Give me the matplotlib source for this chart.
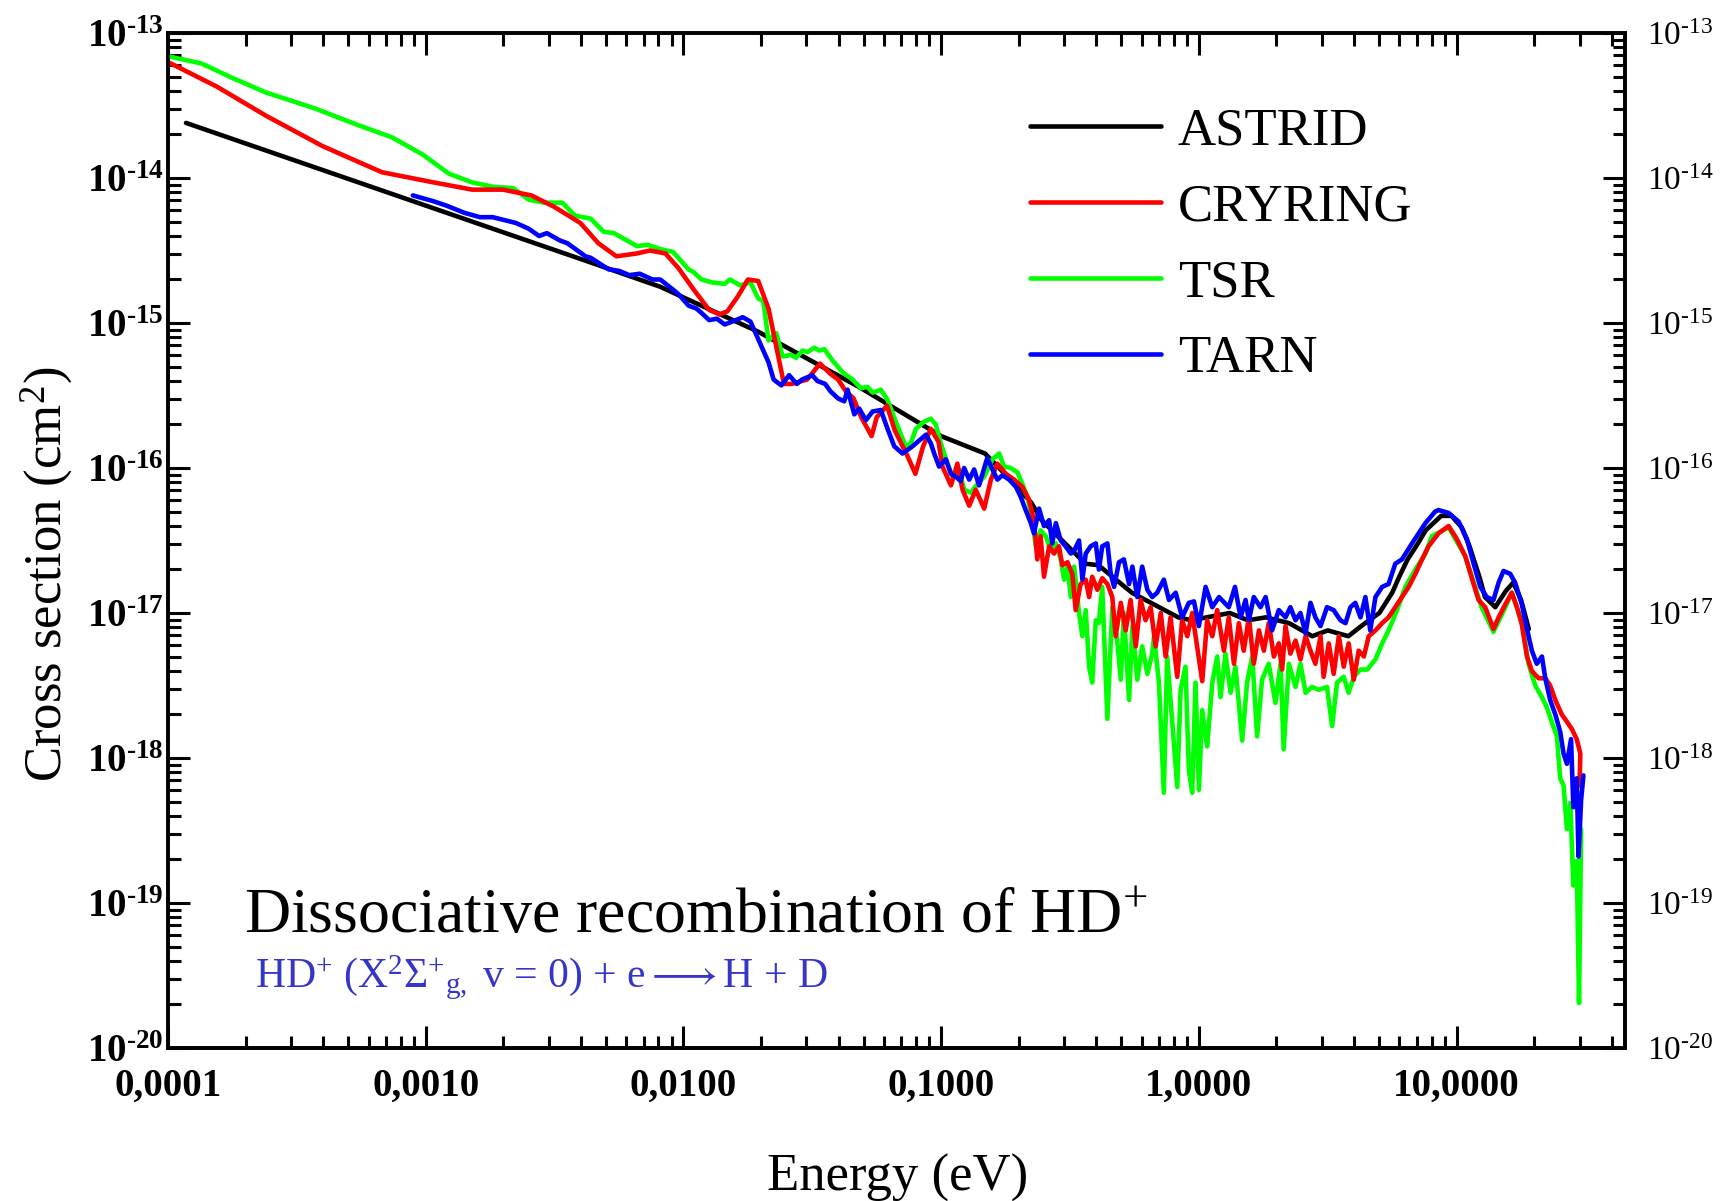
import numpy as np
import matplotlib
matplotlib.use('Agg')
import matplotlib.pyplot as plt
from matplotlib.ticker import LogLocator, NullFormatter

plt.rcParams['font.family'] = ['Liberation Serif', 'DejaVu Sans']
plt.rcParams['mathtext.fontset'] = 'custom'
plt.rcParams['mathtext.rm'] = 'Liberation Serif'
plt.rcParams['mathtext.it'] = 'Liberation Serif:italic'
plt.rcParams['mathtext.bf'] = 'Liberation Serif:bold'
plt.rcParams['mathtext.default'] = 'regular'
plt.rcParams['mathtext.fallback'] = 'stix'

## values, as log10(E / eV) and log10(sigma / cm^2)
astrid_le = [-3.93, -2.38, -2.09, -1.71, -1.32, -1.16, -1.00, -0.83, -0.78, -0.65, -0.61, -0.44, -0.39, -0.26,
             -0.08, -0.03, 0.12, 0.19, 0.26, 0.35, 0.44, 0.50, 0.58, 0.63, 0.70, 0.75, 0.78, 0.81, 0.85, 0.88,
             0.94, 0.98, 1.02, 1.05, 1.09, 1.11, 1.15, 1.19, 1.22, 1.25, 1.28]
astrid_ls = [-13.62, -14.57, -14.75, -15.06, -15.44, -15.61, -15.78, -15.90, -15.99, -16.24, -16.36, -16.66,
             -16.67, -16.86, -17.03, -17.05, -17.00, -17.05, -17.03, -17.07, -17.16, -17.12, -17.16, -17.09,
             -17.00, -16.86, -16.74, -16.63, -16.52, -16.43, -16.33, -16.33, -16.41, -16.54, -16.76, -16.89,
             -16.96, -16.85, -16.79, -16.91, -17.11]

cryring_le = [-4.00, -3.81, -3.62, -3.40, -3.17, -2.97, -2.82, -2.70, -2.59, -2.50, -2.40, -2.33, -2.26, -2.18,
              -2.13, -2.07, -2.02, -1.96, -1.90, -1.86, -1.83, -1.79, -1.75, -1.71, -1.67, -1.64, -1.61, -1.58,
              -1.52, -1.47, -1.43, -1.40, -1.37, -1.34, -1.31, -1.27, -1.25, -1.21, -1.18, -1.13, -1.10, -1.07,
              -1.04, -1.01, -0.995, -0.962, -0.937, -0.917, -0.891, -0.866, -0.833, -0.807, -0.782, -0.749,
              -0.717, -0.685, -0.659, -0.640, -0.627, -0.614, -0.601, -0.581, -0.562, -0.543, -0.530, -0.510,
              -0.491, -0.478, -0.459, -0.439, -0.426, -0.414, -0.394, -0.375, -0.355, -0.336, -0.323, -0.303,
              -0.284, -0.265, -0.245, -0.226, -0.207, -0.187, -0.168, -0.148, -0.129, -0.110, -0.084, -0.065,
              -0.045, -0.026, -0.007, 0.013, 0.032, 0.052, 0.071, 0.097, 0.116, 0.136, 0.155, 0.174, 0.194,
              0.213, 0.233, 0.252, 0.271, 0.291, 0.310, 0.323, 0.336, 0.355, 0.375, 0.394, 0.414, 0.433, 0.452,
              0.472, 0.484, 0.504, 0.523, 0.543, 0.562, 0.581, 0.601, 0.620, 0.640, 0.659, 0.685, 0.711, 0.736,
              0.762, 0.788, 0.814, 0.840, 0.866, 0.891, 0.930, 0.969, 1.001, 1.034, 1.059, 1.085, 1.111, 1.143,
              1.163, 1.189, 1.214, 1.234, 1.253, 1.273, 1.292, 1.318, 1.344, 1.363, 1.383, 1.408, 1.428, 1.447,
              1.466, 1.480, 1.477]
cryring_ls = [-13.20, -13.37, -13.57, -13.78, -13.96, -14.03, -14.08, -14.08, -14.12, -14.20, -14.31, -14.45,
              -14.54, -14.52, -14.50, -14.52, -14.62, -14.77, -14.91, -14.94, -14.92, -14.82, -14.70, -14.71,
              -14.90, -15.16, -15.42, -15.42, -15.39, -15.28, -15.35, -15.39, -15.47, -15.52, -15.65, -15.78,
              -15.65, -15.57, -15.74, -15.92, -16.04, -15.85, -15.73, -15.82, -15.99, -16.12, -15.97, -16.15,
              -16.26, -16.15, -16.28, -16.08, -15.97, -16.04, -16.08, -16.13, -16.22, -16.36, -16.63, -16.47,
              -16.75, -16.54, -16.59, -16.54, -16.67, -16.65, -16.73, -16.98, -16.80, -16.77, -16.89, -16.75,
              -16.84, -16.76, -16.80, -16.89, -17.16, -16.93, -17.12, -16.91, -17.23, -16.91, -17.05, -16.96,
              -17.23, -17.00, -17.30, -17.03, -17.44, -17.05, -17.16, -17.00, -17.23, -17.47, -17.05, -17.16,
              -16.98, -17.26, -17.03, -17.35, -17.07, -17.26, -17.03, -17.35, -17.12, -17.26, -17.07, -17.30,
              -17.21, -17.39, -17.09, -17.28, -17.19, -17.32, -17.16, -17.26, -17.35, -17.16, -17.44, -17.21,
              -17.42, -17.16, -17.37, -17.21, -17.46, -17.26, -17.30, -17.16, -17.12, -17.07, -17.03, -16.96,
              -16.89, -16.82, -16.73, -16.63, -16.54, -16.45, -16.40, -16.49, -16.61, -16.76, -16.91, -16.96,
              -17.11, -17.03, -16.94, -16.86, -16.96, -17.08, -17.30, -17.40, -17.45, -17.45, -17.50, -17.60,
              -17.70, -17.75, -17.80, -17.87, -17.97, -18.19]

tsr_le = [-4.00, -3.87, -3.75, -3.62, -3.43, -3.27, -3.13, -3.01, -2.91, -2.82, -2.74, -2.66, -2.60, -2.54,
          -2.47, -2.42, -2.36, -2.31, -2.27, -2.18, -2.14, -2.09, -2.04, -1.98, -1.96, -1.93, -1.89, -1.84, -1.82,
          -1.78, -1.74, -1.71, -1.69, -1.67, -1.64, -1.615, -1.583, -1.563, -1.538, -1.518, -1.492, -1.473,
          -1.453, -1.421, -1.382, -1.344, -1.311, -1.286, -1.266, -1.234, -1.208, -1.176, -1.156, -1.137, -1.118,
          -1.098, -1.066, -1.040, -1.021, -1.001, -0.975, -0.956, -0.930, -0.911, -0.885, -0.859, -0.833, -0.801,
          -0.775, -0.756, -0.730, -0.704, -0.685, -0.665, -0.646, -0.633, -0.614, -0.594, -0.575, -0.555, -0.536,
          -0.523, -0.510, -0.497, -0.484, -0.465, -0.452, -0.439, -0.426, -0.414, -0.400, -0.388, -0.375, -0.355,
          -0.336, -0.317, -0.303, -0.291, -0.271, -0.258, -0.239, -0.220, -0.200, -0.181, -0.174, -0.155, -0.136,
          -0.123, -0.103, -0.084, -0.071, -0.052, -0.039, -0.026, -0.013, 0.000, 0.013, 0.032, 0.052, 0.071,
          0.084, 0.103, 0.123, 0.142, 0.168, 0.187, 0.207, 0.226, 0.245, 0.271, 0.297, 0.317, 0.329, 0.349,
          0.375, 0.394, 0.414, 0.439, 0.465, 0.497, 0.517, 0.536, 0.562, 0.581, 0.601, 0.627, 0.653, 0.685,
          0.711, 0.736, 0.769, 0.801, 0.840, 0.879, 0.904, 0.969, 1.034, 1.097, 1.143, 1.189, 1.214, 1.253,
          1.279, 1.305, 1.331, 1.350, 1.369, 1.389, 1.402, 1.415, 1.428, 1.441, 1.453, 1.466, 1.475, 1.483]
tsr_ls = [-13.16, -13.21, -13.31, -13.41, -13.52, -13.63, -13.72, -13.84, -13.97, -14.03, -14.06, -14.07, -14.15,
          -14.17, -14.17, -14.26, -14.28, -14.37, -14.38, -14.47, -14.46, -14.49, -14.51, -14.63, -14.65, -14.70,
          -14.72, -14.73, -14.70, -14.74, -14.72, -14.83, -14.85, -15.12, -15.07, -15.23, -15.22, -15.24, -15.19,
          -15.20, -15.17, -15.19, -15.18, -15.26, -15.34, -15.39, -15.45, -15.44, -15.48, -15.46, -15.53, -15.68,
          -15.77, -15.85, -15.83, -15.73, -15.68, -15.66, -15.70, -15.83, -15.97, -16.06, -16.01, -16.15, -16.17,
          -16.11, -16.06, -15.94, -15.90, -15.99, -16.00, -16.03, -16.11, -16.20, -16.36, -16.54, -16.43, -16.47,
          -16.57, -16.52, -16.63, -16.77, -16.68, -16.89, -16.68, -17.00, -17.16, -16.98, -17.37, -17.48, -17.05,
          -17.07, -16.82, -17.73, -16.96, -17.19, -17.46, -17.00, -17.60, -17.09, -17.46, -17.23, -17.42, -17.28,
          -17.16, -17.48, -18.24, -17.30, -17.76, -18.20, -17.53, -17.37, -18.08, -18.24, -17.48, -18.22, -17.67,
          -17.92, -17.48, -17.30, -17.58, -17.28, -17.55, -17.37, -17.88, -17.48, -17.30, -17.85, -17.46, -17.35,
          -17.62, -17.35, -17.94, -17.35, -17.51, -17.35, -17.55, -17.51, -17.53, -17.51, -17.78, -17.48, -17.44,
          -17.55, -17.44, -17.39, -17.39, -17.32, -17.21, -17.12, -16.98, -16.82, -16.70, -16.59, -16.47, -16.41,
          -16.61, -16.96, -17.13, -16.96, -16.86, -17.06, -17.35, -17.50, -17.58, -17.65, -17.75, -17.85, -18.14,
          -18.19, -18.49, -18.31, -18.88, -18.71, -19.69, -18.49]

tarn_le = [-3.05, -2.97, -2.92, -2.85, -2.79, -2.74, -2.65, -2.60, -2.56, -2.53, -2.48, -2.45, -2.38, -2.36,
           -2.29, -2.25, -2.21, -2.17, -2.12, -2.09, -2.04, -2.02, -1.98, -1.95, -1.93, -1.90, -1.87, -1.84, -1.81,
           -1.77, -1.74, -1.70, -1.67, -1.65, -1.62, -1.59, -1.56, -1.54, -1.50, -1.48, -1.45, -1.43, -1.40,
           -1.376, -1.363, -1.337, -1.318, -1.292, -1.266, -1.234, -1.208, -1.182, -1.150, -1.111, -1.085,
           -1.059, -1.040, -1.027, -1.008, -0.982, -0.962, -0.943, -0.924, -0.911, -0.891, -0.872, -0.853,
           -0.833, -0.821, -0.801, -0.782, -0.762, -0.736, -0.710, -0.691, -0.672, -0.652, -0.640, -0.620,
           -0.601, -0.581, -0.569, -0.555, -0.536, -0.517, -0.497, -0.484, -0.465, -0.452, -0.439, -0.420,
           -0.400, -0.388, -0.375, -0.355, -0.342, -0.329, -0.310, -0.291, -0.271, -0.258, -0.239, -0.220,
           -0.200, -0.181, -0.162, -0.136, -0.116, -0.090, -0.065, -0.039, -0.019, 0.000, 0.026, 0.052, 0.078,
           0.116, 0.140, 0.162, 0.181, 0.194, 0.213, 0.239, 0.259, 0.284, 0.310, 0.336, 0.355, 0.375, 0.394,
           0.414, 0.433, 0.452, 0.472, 0.497, 0.523, 0.549, 0.569, 0.588, 0.607, 0.627, 0.646, 0.665, 0.685,
           0.711, 0.736, 0.762, 0.788, 0.827, 0.853, 0.879, 0.917, 0.930, 0.969, 1.008, 1.040, 1.066, 1.092,
           1.117, 1.143, 1.163, 1.182, 1.208, 1.227, 1.253, 1.273, 1.292, 1.311, 1.331, 1.344, 1.363, 1.383,
           1.402, 1.415, 1.428, 1.444, 1.453, 1.466, 1.473, 1.483, 1.492]
tarn_ls = [-14.12, -14.16, -14.19, -14.24, -14.27, -14.27, -14.31, -14.35, -14.40, -14.38, -14.43, -14.45,
           -14.54, -14.55, -14.63, -14.64, -14.67, -14.66, -14.70, -14.70, -14.77, -14.80, -14.88, -14.90,
           -14.93, -14.98, -14.97, -15.01, -14.99, -14.96, -14.99, -15.15, -15.27, -15.39, -15.43, -15.36,
           -15.42, -15.39, -15.36, -15.40, -15.42, -15.47, -15.52, -15.54, -15.46, -15.63, -15.59, -15.67,
           -15.61, -15.60, -15.73, -15.85, -15.90, -15.85, -15.81, -15.77, -15.83, -15.90, -15.99, -15.94,
           -16.04, -16.06, -16.09, -16.00, -16.08, -16.01, -16.12, -16.00, -15.93, -16.01, -16.08, -16.05,
           -16.08, -16.13, -16.20, -16.29, -16.38, -16.45, -16.28, -16.40, -16.36, -16.52, -16.38, -16.50,
           -16.54, -16.59, -16.57, -16.50, -16.77, -16.59, -16.54, -16.52, -16.70, -16.54, -16.52, -16.73,
           -16.82, -16.65, -16.63, -16.80, -16.68, -16.89, -16.68, -16.84, -16.89, -16.86, -16.77, -16.91,
           -16.86, -17.03, -16.93, -16.92, -17.09, -16.82, -16.96, -16.89, -16.96, -16.82, -17.03, -16.91,
           -17.05, -16.89, -16.96, -16.89, -17.12, -16.98, -17.03, -16.96, -17.05, -17.00, -17.14, -16.93,
           -17.03, -17.09, -16.96, -16.98, -17.05, -17.07, -16.96, -16.93, -17.03, -16.89, -17.12, -16.89,
           -16.82, -16.80, -16.66, -16.63, -16.52, -16.45, -16.38, -16.30, -16.29, -16.31, -16.37, -16.49,
           -16.66, -16.82, -16.89, -16.91, -16.79, -16.71, -16.73, -16.79, -16.94, -17.11, -17.26, -17.35,
           -17.30, -17.45, -17.60, -17.70, -17.82, -17.97, -18.04, -17.87, -18.34, -18.14, -18.68, -18.29,
           -18.12]

series_names = ['ASTRID', 'CRYRING', 'TSR', 'TARN']
series_colors = ['black', '#ff0000', '#00ff00', '#0000ff']

x_ticks = [1e-4, 1e-3, 1e-2, 1e-1, 1, 10]
x_tick_labels = ['0,0001', '0,0010', '0,0100', '0,1000', '1,0000', '10,0000']
y_exponents = [-20, -19, -18, -17, -16, -15, -14, -13]

fig = plt.figure(figsize=(17.21, 12.01), dpi=100)
ax = fig.add_axes([0.0976, 0.1274, 0.8466, 0.8451])

curves = [(astrid_le, astrid_ls), (cryring_le, cryring_ls), (tsr_le, tsr_ls), (tarn_le, tarn_ls)]
zorders = [2, 4, 3, 5]
for (le, ls), name, col, z in zip(curves, series_names, series_colors, zorders):
    ax.plot(10 ** np.array(le), 10 ** np.array(ls), color=col, lw=3.3, label=name, zorder=z,
            solid_joinstyle='round', solid_capstyle='round')

ax.set_xscale('log')
ax.set_yscale('log')
ax.set_xlim(1e-4, 45)
ax.set_ylim(1e-20, 1e-13)

ax.set_xticks(x_ticks)
ax.set_xticklabels(x_tick_labels, fontsize=28, fontweight='bold')
ax.xaxis.set_minor_locator(LogLocator(base=10, subs=np.arange(2, 10), numticks=100))
ax.xaxis.set_minor_formatter(NullFormatter())

## exponents written with a plain hyphen, as in the original
y_ticks = [10.0 ** e for e in y_exponents]
ax.set_yticks(y_ticks)
ax.set_yticklabels(['$\\mathbf{10^{\u2010%d}}$' % abs(e) for e in y_exponents], fontsize=28)
ax.yaxis.set_minor_locator(LogLocator(base=10, subs=np.arange(2, 10), numticks=100))
ax.yaxis.set_minor_formatter(NullFormatter())

ax.tick_params(which='major', direction='in', length=16, width=2.2, top=True, right=False)
ax.tick_params(which='minor', direction='in', length=9, width=2.2, top=True, right=False)
ax.tick_params(axis='x', which='major', pad=14)
ax.tick_params(axis='y', which='major', pad=3)
for s in ax.spines.values():
    s.set_linewidth(2.6)

## right axis carries its own (non-bold) labels
ax2 = ax.twinx()
ax2.set_yscale('log')
ax2.set_ylim(1e-20, 1e-13)
ax2.set_yticks(y_ticks)
ax2.set_yticklabels(['$10^{\u2010%d}$' % abs(e) for e in y_exponents], fontsize=24)
ax2.yaxis.set_minor_locator(LogLocator(base=10, subs=np.arange(2, 10), numticks=100))
ax2.yaxis.set_minor_formatter(NullFormatter())
ax2.tick_params(which='major', direction='in', length=16, width=2.2, pad=16)
ax2.tick_params(which='minor', direction='in', length=9, width=2.2)
for s in ax2.spines.values():
    s.set_linewidth(2.6)

ax.set_xlabel('Energy (eV)', fontsize=38)
ax.xaxis.set_label_coords(0.501, -0.104)
ax.set_ylabel('Cross section (cm$^{2}$)', fontsize=38)
ax.yaxis.set_label_coords(-0.064, 0.467)

ax.text(0.052, 0.113, 'Dissociative recombination of HD$^{+}$', transform=ax.transAxes,
        fontsize=46, ha='left', va='baseline', zorder=6)
ax.text(0.060, 0.059, 'HD$^{+}$ (X$^{2}\\Sigma^{+}{}_{g,}$ v = 0) + e$\\longrightarrow$H + D',
        transform=ax.transAxes, fontsize=30, color='#3535c8', ha='left', va='baseline', zorder=6)

leg = ax.legend(loc='upper left', bbox_to_anchor=(0.5916, 0.927), frameon=False, fontsize=38,
                handlelength=2.48, handletextpad=0.32, labelspacing=0.53, borderpad=0, borderaxespad=0)
for line in leg.get_lines():
    line.set_linewidth(3.3)

plt.savefig('out.png', dpi=100)
plt.close()
